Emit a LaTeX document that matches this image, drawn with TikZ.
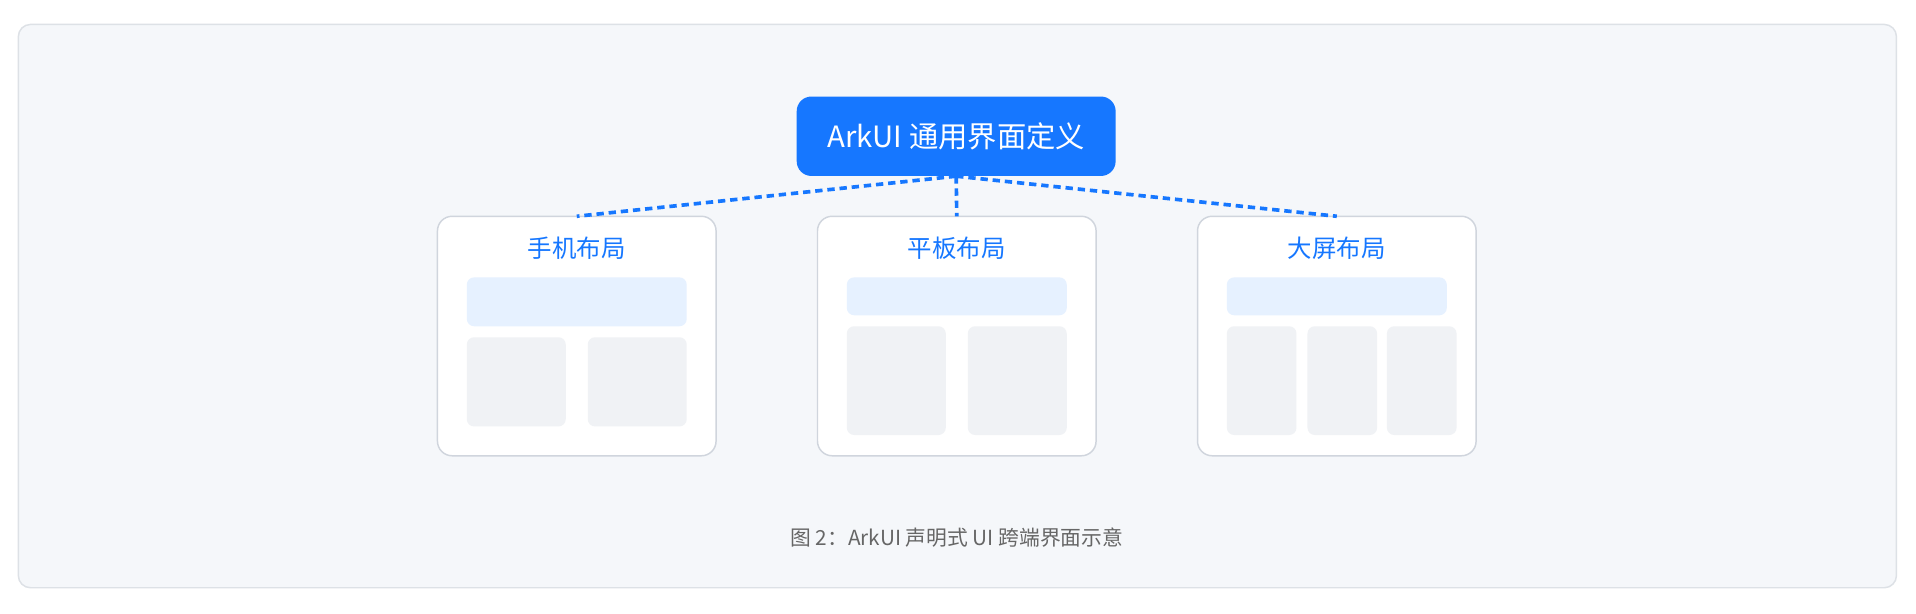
\documentclass[tikz,border=0pt]{standalone}
\usepackage{fontspec}
\setmainfont{Noto Sans CJK SC}
\definecolor{ark}{HTML}{1677FF}
\definecolor{panel}{HTML}{F5F7FA}
\definecolor{panelb}{HTML}{DDE1E6}
\definecolor{cardb}{HTML}{D0D5DD}
\definecolor{hdr}{HTML}{E6F1FF}
\definecolor{blk}{HTML}{F0F2F5}
\begin{document}
\begin{tikzpicture}[x=1pt,y=-1pt,
 card/.style={draw=cardb,line width=1.2pt,fill=white,rounded corners=12pt},
 hdrbox/.style={fill=hdr,rounded corners=6pt},
 blkbox/.style={fill=blk,rounded corners=6pt},
 ttl/.style={text=ark,font=\fontsize{20}{24}\selectfont},
 conn/.style={draw=ark,line width=3pt,dash pattern=on 6pt off 4pt}]
\useasboundingbox (0,0) rectangle (1568,502);
\fill[white] (0,0) rectangle (1568,502);
\draw[panelb,fill=panel,line width=1.2pt,rounded corners=10pt] (15,20) rectangle (1552,481);
% cards
\draw[card] (358,177) rectangle (586,373);
\draw[card] (669,177) rectangle (897,373);
\draw[card] (980,177) rectangle (1208,373);
\coordinate (c1) at (472,177);
\coordinate (c2) at (783,177);
\coordinate (c3) at (1094,177);
\node[ttl] (t1) at (472,203) {手机布局};
\node[ttl] (t2) at (783,203) {平板布局};
\node[ttl] (t3) at (1094,203) {大屏布局};
\fill[hdrbox] (382,227) rectangle (562,267);
\fill[blkbox] (382,276) rectangle (463,349);
\fill[blkbox] (481,276) rectangle (562,349);
\fill[hdrbox] (693,227) rectangle (873,258);
\fill[blkbox] (693,267) rectangle (774,356);
\fill[blkbox] (792,267) rectangle (873,356);
\fill[hdrbox] (1004,227) rectangle (1184,258);
\fill[blkbox] (1004,267) rectangle (1061,356);
\fill[blkbox] (1070,267) rectangle (1127,356);
\fill[blkbox] (1135,267) rectangle (1192,356);
% top
\node[fill=ark,rounded corners=12pt,minimum width=261pt,minimum height=65pt,text=white,font=\fontsize{24}{28}\selectfont,inner sep=0pt] (top) at (782.5,111.5) {ArkUI 通用界面定义};
\draw[conn] (top.south) -- (c1);
\draw[conn] (top.south) -- (c2);
\draw[conn] (top.south) -- (c3);
\node[text=black!60,font=\fontsize{17}{20}\selectfont] (cap) at (783,440) {图 2：ArkUI 声明式 UI 跨端界面示意};
\end{tikzpicture}
\end{document}
